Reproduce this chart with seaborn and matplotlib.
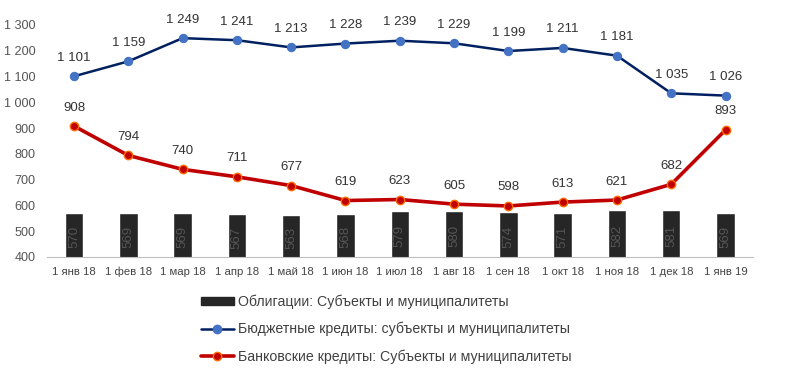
import numpy as np
import pandas as pd
import matplotlib
matplotlib.use("Agg")
import matplotlib.pyplot as plt
import seaborn as sns
from matplotlib.lines import Line2D
from matplotlib.patches import Patch

months = ["1 янв 18", "1 фев 18", "1 мар 18", "1 апр 18", "1 май 18", "1 июн 18",
          "1 июл 18", "1 авг 18", "1 сен 18", "1 окт 18", "1 ноя 18", "1 дек 18",
          "1 янв 19"]
bonds = [570, 569, 569, 567, 563, 568, 579, 580, 574, 571, 582, 581, 569]
budget = [1101, 1159, 1249, 1241, 1213, 1228, 1239, 1229, 1199, 1211, 1181, 1035, 1026]
bank = [908, 794, 740, 711, 677, 619, 623, 605, 598, 613, 621, 682, 893]

labels = ["Облигации: Субъекты и муниципалитеты",
          "Бюджетные кредиты: субъекты и муниципалитеты",
          "Банковские кредиты: Субъекты и муниципалитеты"]

BAR_C = "#262626"
BLUE_LINE, BLUE_MK = "#002060", "#4472C4"
RED_LINE, RED_MK, RED_EDGE = "#C00000", "#C00000", "#FF6A00"


def fmt(v):
    return f"{v:,}".replace(",", " ")


sns.set_style("white")
plt.rcParams["font.family"] = ["Liberation Sans", "DejaVu Sans"]

fig = plt.figure(figsize=(7.94, 3.73), dpi=100)
ax = fig.add_axes([0.059, 0.311, 0.889, 0.622])

df = pd.DataFrame({"x": np.arange(len(months)), "month": months,
                   "bonds": bonds, "budget": budget, "bank": bank})

sns.barplot(data=df, x="x", y="bonds", color=BAR_C, saturation=1,
            width=0.34, ax=ax)
sns.lineplot(data=df, x="x", y="budget", color=BLUE_LINE, lw=1.8,
             marker="o", markersize=6, markerfacecolor=BLUE_MK,
             markeredgecolor=BLUE_MK, ax=ax)
sns.lineplot(data=df, x="x", y="bank", color=RED_LINE, lw=2.6,
             marker="o", markersize=6, markerfacecolor=RED_MK,
             markeredgecolor=RED_EDGE, markeredgewidth=1, ax=ax)

for i, v in enumerate(bonds):
    ax.text(i, 400 + (v - 400) / 2 - 8, str(v), rotation=90, ha="center",
            va="center", color="#555555", fontsize=9.5)
for i, v in enumerate(budget):
    ax.annotate(fmt(v), (i, v), xytext=(0, 9), textcoords="offset points",
                ha="center", va="bottom", fontsize=9.5, color="#333333")
for i, v in enumerate(bank):
    ax.annotate(fmt(v), (i, v), xytext=(0, 9), textcoords="offset points",
                ha="center", va="bottom", fontsize=9.5, color="#333333")

ax.set_xlim(-0.5, len(months) - 0.5)
ax.set_ylim(400, 1300)
ax.set_yticks(range(400, 1301, 100))
ax.set_yticklabels([fmt(v) for v in range(400, 1301, 100)], fontsize=9.1,
                   color="#555555")
ax.set_xticks(range(len(months)))
ax.set_xticklabels(months, fontsize=8.2, color="#444444")
ax.set_xticks(np.arange(-0.5, len(months)), minor=True)
ax.tick_params(axis="x", which="major", length=0, pad=7)
ax.tick_params(axis="x", which="minor", length=4, color="#bfbfbf")
ax.tick_params(axis="y", length=0, pad=8)
ax.set_xlabel("")
ax.set_ylabel("")
for s in ["top", "right", "left"]:
    ax.spines[s].set_visible(False)
ax.spines["bottom"].set_color("#bfbfbf")

handles = [
    Patch(facecolor=BAR_C, edgecolor=BAR_C),
    Line2D([], [], color=BLUE_LINE, lw=1.8, marker="o", markersize=6,
           markerfacecolor=BLUE_MK, markeredgecolor=BLUE_MK),
    Line2D([], [], color=RED_LINE, lw=2.6, marker="o", markersize=6,
           markerfacecolor=RED_MK, markeredgecolor=RED_EDGE),
]
fig.legend(handles, labels, loc="upper left", bbox_to_anchor=(0.246, 0.225),
           frameon=False, fontsize=10.2, labelcolor="#404040",
           handlelength=2.3, handleheight=0.5, handletextpad=0.3,
           labelspacing=0.9, borderaxespad=0)

fig.savefig("out.png", dpi=100)
